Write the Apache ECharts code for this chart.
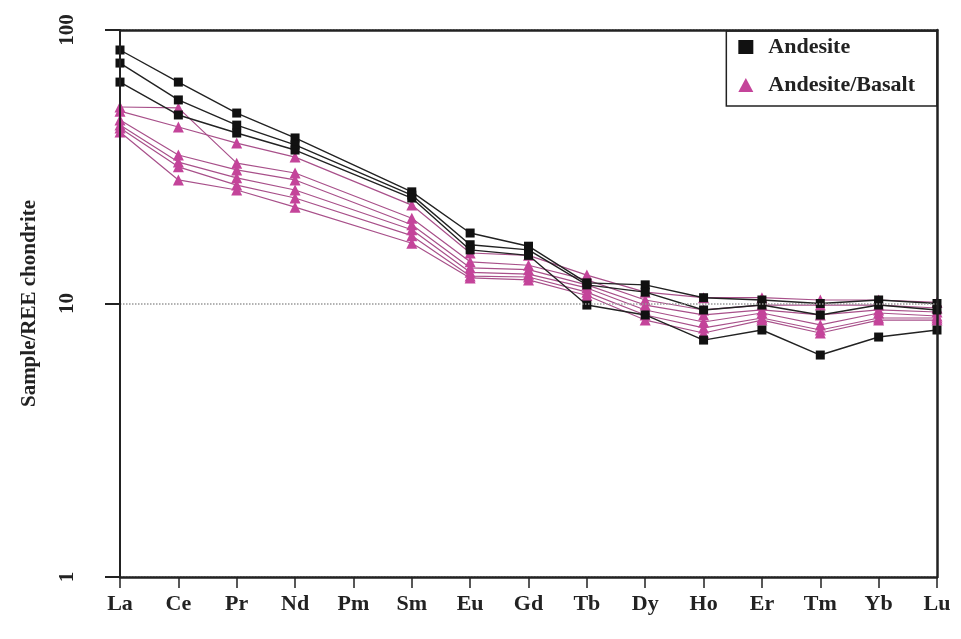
<!DOCTYPE html>
<html>
<head>
<meta charset="utf-8">
<script src="https://cdn.jsdelivr.net/npm/echarts@6/dist/echarts.min.js"></script>
<style>
  html, body { margin: 0; padding: 0; background: #fff; }
  #chart { width: 961px; height: 639px; }
</style>
</head>
<body>
<div id="chart"></div>
<script>
// REE elements (Pm has no data)
const elements = ['La', 'Ce', 'Pr', 'Nd', 'Pm', 'Sm', 'Eu', 'Gd', 'Tb', 'Dy', 'Ho', 'Er', 'Tm', 'Yb', 'Lu']
const yTicks = [1, 10, 100]

// Andesite samples (chondrite normalised)
const andesite1 = [84.5, 64.5, 49.7, 40.3, null, 25.6, 18.1, 16.2, 11.9, 11.7, 10.5, 10.3, 10.0, 10.3, 10.0]
const andesite2 = [75.7, 55.5, 44.9, 38.0, null, 24.9, 16.4, 15.7, 11.7, 11.0, 9.47, 9.87, 9.08, 9.87, 9.47]
const andesite3 = [64.5, 48.9, 42.0, 36.4, null, 24.3, 15.7, 15.0, 9.87, 9.08, 7.35, 8.0, 6.48, 7.54, 8.0]

// Andesite/Basalt samples
const basalt1 = [52.3, 51.9, 32.6, 30.0, null, 20.5, 14.2, 13.8, 12.2, 10.3, 9.47, 9.87, 9.87, 9.87, 9.63]
const basalt2 = [50.5, 44.2, 38.6, 34.3, null, 22.9, 15.3, 15.0, 12.7, 11.0, 10.5, 10.5, 10.3, 10.3, 10.1]
const basalt3 = [46.9, 34.9, 30.8, 28.3, null, 19.4, 13.5, 13.3, 11.7, 9.87, 9.08, 9.47, 9.08, 9.47, 9.31]
const basalt4 = [44.9, 32.9, 28.8, 26.0, null, 18.6, 13.0, 12.8, 11.4, 9.47, 8.56, 9.23, 8.35, 9.23, 9.0]
const basalt5 = [43.8, 31.6, 27.1, 24.3, null, 17.7, 12.6, 12.5, 11.0, 9.08, 8.14, 8.85, 8.0, 8.85, 8.85]
const basalt6 = [42.4, 28.3, 26.0, 22.5, null, 16.6, 12.4, 12.2, 10.7, 8.7, 7.8, 8.7, 7.8, 8.7, 8.7]

const andesiteData = [andesite1, andesite2, andesite3]
const basaltData = [basalt1, basalt2, basalt3, basalt4, basalt5, basalt6]

const font = 'Liberation Serif'
const chart = echarts.init(document.getElementById('chart'))

// 玄武安山岩系列
const basaltSeries = basaltData.map(d => ({
  name: 'Andesite/Basalt',
  type: 'line',
  data: d,
  connectNulls: true,
  symbol: 'triangle',
  symbolSize: 11,
  itemStyle: { color: '#c4449a' },
  lineStyle: { color: '#a8508a', width: 1.2 },
  z: 2
}))

// 安山岩系列
const andesiteSeries = andesiteData.map(d => ({
  name: 'Andesite',
  type: 'line',
  data: d,
  connectNulls: true,
  symbol: 'rect',
  symbolSize: 9,
  itemStyle: { color: '#111' },
  lineStyle: { color: '#222', width: 1.4 },
  z: 3
}))

const option = {
  animation: false,
  backgroundColor: '#fff',
  grid: { left: 120, right: 24, top: 30, bottom: 62 },
  legend: {
    orient: 'vertical',
    right: 24, top: 31,
    padding: [5, 22, 10, 12],
    itemGap: 16,
    itemWidth: 15, itemHeight: 14,
    borderColor: '#222', borderWidth: 1.5,
    backgroundColor: '#fff',
    textStyle: { fontFamily: font, fontWeight: 'bold', fontSize: 22, color: '#222', padding: [0, 0, 0, 10] },
    data: [
      { name: 'Andesite', icon: 'rect', itemStyle: { color: '#111' } },
      { name: 'Andesite/Basalt', icon: 'triangle', itemStyle: { color: '#c4449a' } }
    ]
  },
  xAxis: [
    {
      type: 'category',
      data: elements,
      boundaryGap: false,
      z: 5,
      axisLine: { lineStyle: { color: '#222', width: 2.5 } },
      axisTick: { show: true, inside: false, length: 11, interval: 0, lineStyle: { color: '#222', width: 1.5 } },
      axisLabel: { interval: 0, margin: 16, fontFamily: font, fontWeight: 'bold', fontSize: 22, color: '#222' },
      splitLine: { show: false }
    },
    {
      // top frame line
      type: 'category',
      data: elements,
      position: 'top',
      boundaryGap: false,
      z: 5,
      axisLine: { show: true, lineStyle: { color: '#222', width: 2.5 } },
      axisTick: { show: false },
      axisLabel: { show: false },
      splitLine: { show: false }
    }
  ],
  yAxis: [
    {
      type: 'log',
      logBase: 10,
      min: yTicks[0],
      max: yTicks[yTicks.length - 1],
      name: 'Sample/REE chondrite',
      nameLocation: 'middle',
      nameGap: 80,
      nameTextStyle: { fontFamily: font, fontWeight: 'bold', fontSize: 21, color: '#222' },
      z: 5,
      axisLine: { show: true, lineStyle: { color: '#222', width: 2 } },
      axisTick: { show: true, inside: false, length: 15, lineStyle: { color: '#222', width: 2 } },
      minorTick: { show: false },
      axisLabel: {
        rotate: 90, margin: 42,
        fontFamily: font, fontWeight: 'bold', fontSize: 21, color: '#222'
      },
      splitLine: { show: true, lineStyle: { color: '#999', type: 'dotted', width: 1.5 } }
    },
    {
      // right frame line
      type: 'log',
      logBase: 10,
      min: yTicks[0],
      max: yTicks[yTicks.length - 1],
      position: 'right',
      z: 5,
      axisLine: { show: true, lineStyle: { color: '#222', width: 2.5 } },
      axisTick: { show: false },
      axisLabel: { show: false },
      splitLine: { show: false }
    }
  ],
  series: [...basaltSeries, ...andesiteSeries]
}

chart.setOption(option)
</script>
</body>
</html>
